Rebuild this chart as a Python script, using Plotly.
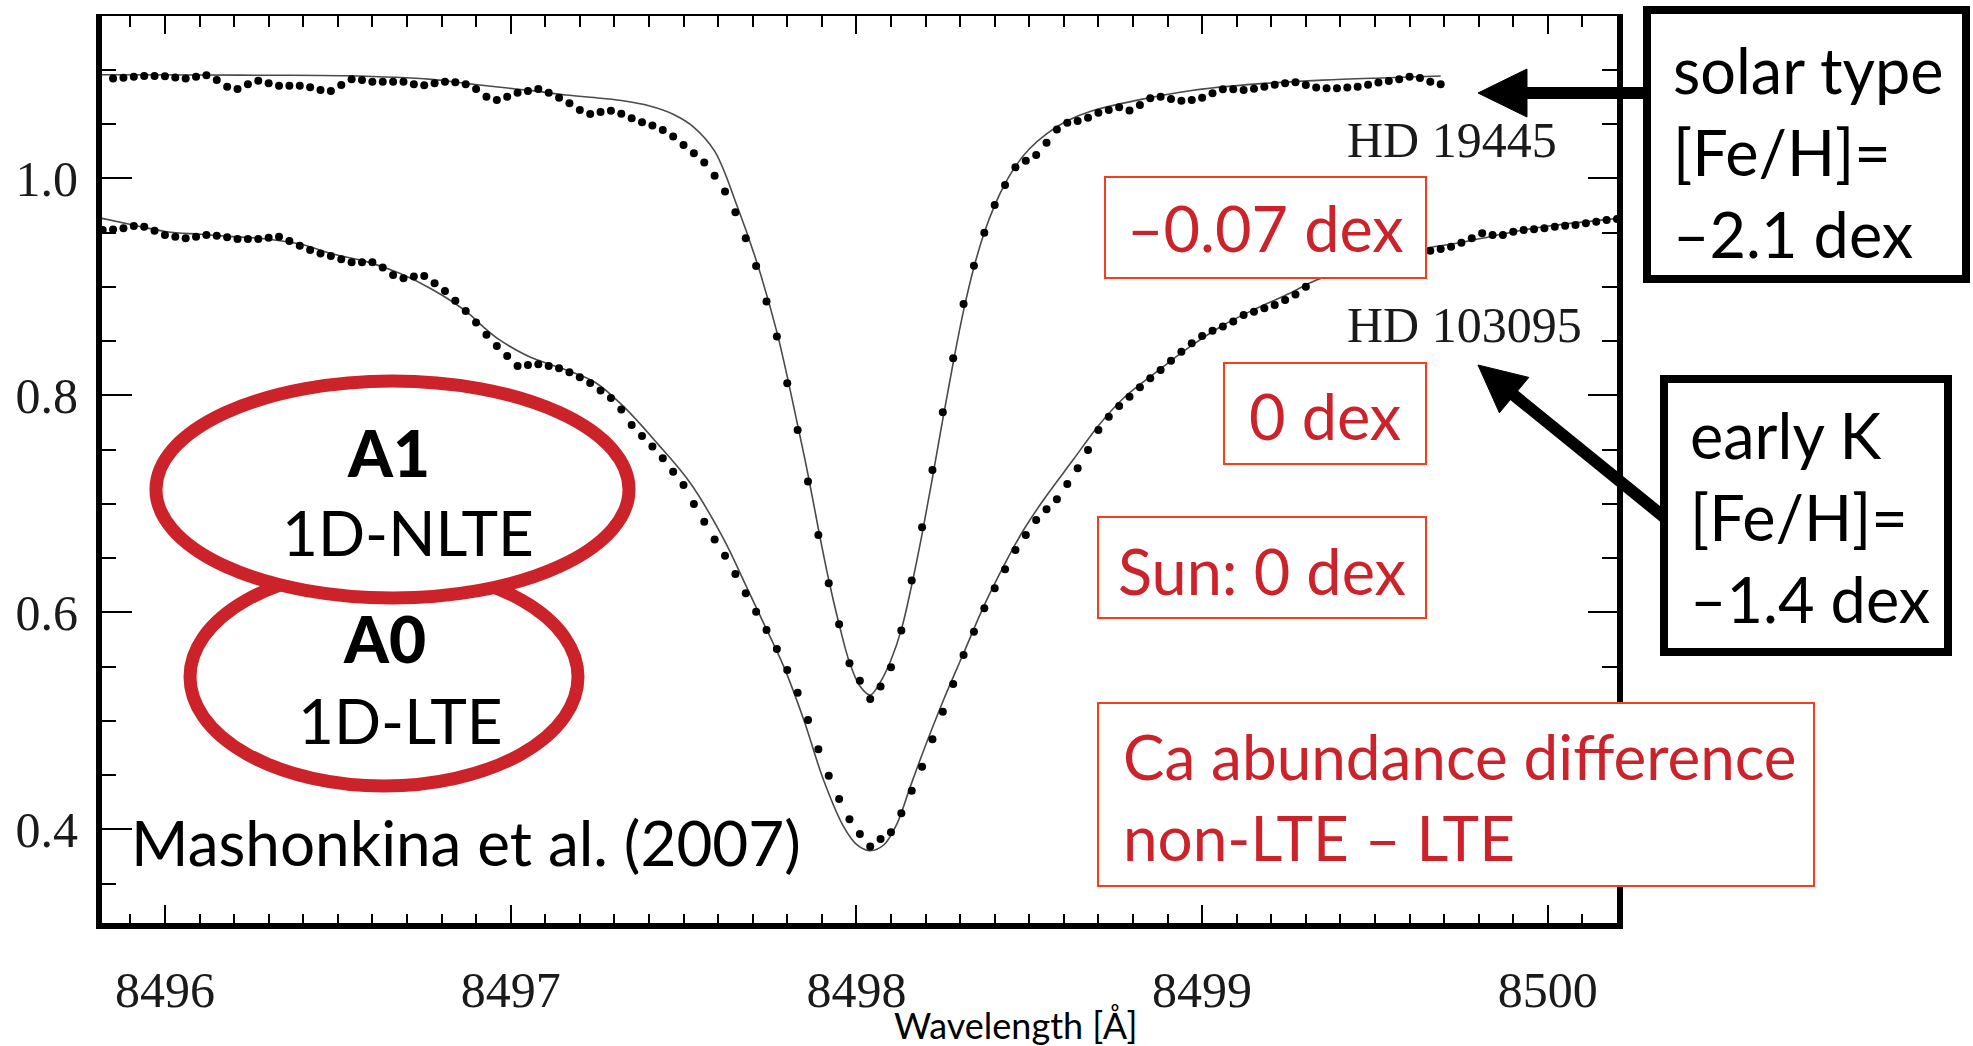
import plotly.graph_objects as go

# ---------------- data ----------------
# common wavelength sampling of the observed spectra [Angstrom]
wavelength = [
    8495.82, 8495.85, 8495.88, 8495.91, 8495.94, 8495.97, 8496.00, 8496.03, 8496.06, 8496.09,
    8496.12, 8496.15, 8496.18, 8496.21, 8496.24, 8496.27, 8496.30, 8496.33, 8496.36, 8496.39,
    8496.42, 8496.45, 8496.48, 8496.51, 8496.54, 8496.57, 8496.60, 8496.63, 8496.66, 8496.69,
    8496.72, 8496.75, 8496.78, 8496.81, 8496.84, 8496.87, 8496.90, 8496.93, 8496.96, 8496.99,
    8497.02, 8497.05, 8497.08, 8497.11, 8497.14, 8497.17, 8497.20, 8497.23, 8497.26, 8497.29,
    8497.32, 8497.35, 8497.38, 8497.41, 8497.44, 8497.47, 8497.50, 8497.53, 8497.56, 8497.59,
    8497.62, 8497.65, 8497.68, 8497.71, 8497.74, 8497.77, 8497.80, 8497.83, 8497.86, 8497.89,
    8497.92, 8497.95, 8497.98, 8498.01, 8498.04, 8498.07, 8498.10, 8498.13, 8498.16, 8498.19,
    8498.22, 8498.25, 8498.28, 8498.31, 8498.34, 8498.37, 8498.40, 8498.43, 8498.46, 8498.49,
    8498.52, 8498.55, 8498.58, 8498.61, 8498.64, 8498.67, 8498.70, 8498.73, 8498.76, 8498.79,
    8498.82, 8498.85, 8498.88, 8498.91, 8498.94, 8498.97, 8499.00, 8499.03, 8499.06, 8499.09,
    8499.12, 8499.15, 8499.18, 8499.21, 8499.24, 8499.27, 8499.30, 8499.33, 8499.36, 8499.39,
    8499.42, 8499.45, 8499.48, 8499.51, 8499.54, 8499.57, 8499.60, 8499.63, 8499.66, 8499.69,
    8499.72, 8499.75, 8499.78, 8499.81, 8499.84, 8499.87, 8499.90, 8499.93, 8499.96, 8499.99,
    8500.02, 8500.05, 8500.08, 8500.11, 8500.14, 8500.17, 8500.20,
]

# observed normalised flux, HD 19445 (offset upward in the figure)
obs_hd19445 = [
    None,
    1.0921, 1.0927, 1.0937, 1.0943, 1.0943, 1.0940, 1.0930, 1.0921, 1.0937, 1.0949,
    1.0906, 1.0845, 1.0823, 1.0866, 1.0900, 1.0875, 1.0854, 1.0854, 1.0854, 1.0839,
    1.0814, 1.0805, 1.0860, 1.0913, 1.0906, 1.0891, 1.0891, 1.0891, 1.0891, 1.0866,
    1.0857, 1.0875, 1.0891, 1.0885, 1.0866, 1.0823, 1.0752, 1.0722, 1.0752, 1.0789,
    1.0805, 1.0823, 1.0789, 1.0743, 1.0691, 1.0630, 1.0592, 1.0610, 1.0623, 1.0594,
    1.0554, 1.0516, 1.0486, 1.0446, 1.0385, 1.0308, 1.0231, 1.0145, 1.0023, 0.9878,
    0.9688, 0.9448, 0.9192, 0.8864, 0.8541, 0.8111, 0.7681, 0.7205, 0.6713, 0.6267,
    0.5889, 0.5530, 0.5370, 0.5201, 0.5315, 0.5493, 0.5831, 0.6292, 0.6783, 0.7312,
    0.7843, 0.8341, 0.8841, 0.9195, 0.9499, 0.9754, 0.9938, 1.0101, 1.0162, 1.0215,
    1.0328, 1.0451, 1.0513, 1.0528, 1.0558, 1.0605, 1.0630, 1.0655, 1.0624, 1.0676,
    1.0737, 1.0752, 1.0731, 1.0715, 1.0722, 1.0743, 1.0783, 1.0820, 1.0820, 1.0814,
    1.0826, 1.0845, 1.0863, 1.0875, 1.0885, 1.0860, 1.0836, 1.0829, 1.0829, 1.0836,
    1.0845, 1.0863, 1.0882, 1.0897, 1.0913, 1.0937, 1.0925, 1.0891, 1.0866,
    None, None, None, None, None, None, None, None, None, None,
    None, None, None, None, None, None, None,
]

# observed normalised flux, HD 103095 (points hidden behind the label box left out)
obs_hd103095 = [
    0.9524, 0.9527, 0.9539, 0.9561, 0.9554, 0.9517, 0.9477, 0.9462, 0.9447, 0.9462,
    0.9477, 0.9471, 0.9456, 0.9440, 0.9440, 0.9440, 0.9453, 0.9462, 0.9422, 0.9379,
    0.9339, 0.9308, 0.9284, 0.9253, 0.9226, 0.9226, 0.9226, 0.9177, 0.9109, 0.9078,
    0.9094, 0.9100, 0.9032, 0.8961, 0.8872, 0.8777, 0.8670, 0.8557, 0.8455, 0.8362,
    0.8271, 0.8280, 0.8286, 0.8271, 0.8249, 0.8213, 0.8167, 0.8113, 0.8045, 0.7975,
    0.7870, 0.7726, 0.7625, 0.7527, 0.7419, 0.7296, 0.7173, 0.6998, 0.6835, 0.6670,
    0.6522, 0.6353, 0.6175, 0.6006, 0.5837, 0.5662, 0.5468, 0.5259, 0.5007, 0.4737,
    0.4494, 0.4279, 0.4092, 0.3957, 0.3840, 0.3911, 0.3972, 0.4147, 0.4356, 0.4577,
    0.4829, 0.5084, 0.5339, 0.5606, 0.5821, 0.6037, 0.6221, 0.6396, 0.6574, 0.6712,
    0.6851, 0.6949, 0.7041, 0.7182, 0.7327, 0.7496, 0.7680, 0.7803, 0.7901, 0.7987,
    0.8073, 0.8156, 0.8233, 0.8319, 0.8402, 0.8479, 0.8547, 0.8596, 0.8633, 0.8679,
    0.8740, 0.8771, 0.8802, 0.8832, 0.8878, 0.8930, 0.9000,
    None, None, None, None, None, None, None, None, None, None, None,
    0.9333, 0.9348, 0.9370, 0.9407, 0.9447, 0.9493, 0.9477, 0.9477, 0.9508, 0.9524,
    0.9530, 0.9539, 0.9554, 0.9563, 0.9570, 0.9585, 0.9600, 0.9616, 0.9625,
]

# synthetic (model) profiles
model_wl_hd19445 = [
    8495.818, 8496.10, 8496.30, 8496.52, 8496.77, 8496.87, 8496.97, 8497.06, 8497.16, 8497.26,
    8497.33, 8497.40, 8497.47, 8497.53, 8497.59, 8497.655, 8497.713, 8497.771, 8497.829, 8497.86,
    8497.89, 8497.92, 8497.95, 8497.98, 8498.01, 8498.04, 8498.07, 8498.10, 8498.13, 8498.16,
    8498.19, 8498.22, 8498.25, 8498.28, 8498.31, 8498.34, 8498.37, 8498.40, 8498.43, 8498.46,
    8498.50, 8498.55, 8498.61, 8498.68, 8498.82, 8498.97, 8499.16, 8499.35, 8499.54, 8499.69,
]
model_hd19445 = [
    1.0955, 1.0952, 1.0950, 1.0945, 1.0912, 1.0875, 1.0839, 1.0808, 1.0768, 1.0738,
    1.0712, 1.0668, 1.0590, 1.0470, 1.0250, 0.9745, 0.9216, 0.8571, 0.7742, 0.727,
    0.677, 0.630, 0.589, 0.554, 0.532, 0.5238, 0.536, 0.556, 0.584, 0.625,
    0.672, 0.724, 0.778, 0.830, 0.878, 0.918, 0.950, 0.975, 0.995, 1.011,
    1.027, 1.041, 1.053, 1.062, 1.0725, 1.081, 1.0870, 1.0905, 1.0927, 1.0943,
]
model_wl_hd103095 = [
    8495.818, 8495.908, 8496.004, 8496.101, 8496.197, 8496.294, 8496.390, 8496.486, 8496.583, 8496.679,
    8496.776, 8496.872, 8496.920, 8496.968, 8497.016, 8497.065, 8497.161, 8497.245, 8497.327, 8497.424,
    8497.520, 8497.617, 8497.674, 8497.732, 8497.790, 8497.848, 8497.905, 8497.963, 8498.002, 8498.038,
    8498.079, 8498.118, 8498.156, 8498.195, 8498.252, 8498.310, 8498.368, 8498.430, 8498.480, 8498.540,
    8498.628, 8498.700, 8498.773, 8498.869, 8498.965, 8499.062, 8499.158, 8499.254, 8499.331, 8499.649,
    8499.736, 8499.832, 8499.929, 8500.025, 8500.179, 8500.200,
]
model_hd103095 = [
    0.9631, 0.9570, 0.9508, 0.9484, 0.9462, 0.9441, 0.9394, 0.9302, 0.9232, 0.9124,
    0.8971, 0.8771, 0.8633, 0.8510, 0.8418, 0.8341, 0.8233, 0.8118, 0.7895, 0.7557,
    0.7189, 0.6670, 0.6290, 0.5898, 0.5499, 0.5007, 0.4454, 0.4024, 0.3855, 0.3803,
    0.3855, 0.4055, 0.4393, 0.4731, 0.5192, 0.5622, 0.6052, 0.6450, 0.6740, 0.7030,
    0.7410, 0.7720, 0.7975, 0.8218, 0.8448, 0.8648, 0.8802, 0.8940, 0.9063, 0.9355,
    0.9401, 0.9462, 0.9524, 0.9570, 0.9622, 0.9628,
]

x_tick_vals = [8496, 8497, 8498, 8499, 8500]
y_tick_vals = [0.4, 0.6, 0.8, 1.0]
x_range = [8495.818, 8500.200]
y_range = [0.3136, 1.1496]

star_labels = ["HD 19445", "HD 103095"]
delta_labels = ["\u20130.07 dex", "0 dex", "Sun: 0 dex"]

# ---------------- layout helpers (pixel -> paper) ----------------
PL, PR, PT, PB = 102, 1617, 16, 923


def fx(p):
    return (p - PL) / (PR - PL)


def fy(p):
    return (PB - p) / (PB - PT)


SANS = "Lato"
SERIF = "Liberation Serif"
RED_TXT = "#cc2229"
RED_BOX = "#f2401f"

fig = go.Figure()

for wl, fl in [(model_wl_hd19445, model_hd19445), (model_wl_hd103095, model_hd103095)]:
    fig.add_trace(go.Scatter(x=wl, y=fl, mode="lines",
                             line=dict(color="#4a4a4a", width=1.6, shape="spline", smoothing=1.0),
                             hoverinfo="skip", showlegend=False))

for fl in [obs_hd19445, obs_hd103095]:
    fig.add_trace(go.Scatter(x=wavelength, y=fl, mode="markers",
                             marker=dict(color="black", size=8, line=dict(width=0)),
                             hoverinfo="skip", showlegend=False))

# dummy trace so the mirrored (top / right) axes are drawn
fig.add_trace(go.Scatter(x=[x_tick_vals[2]], y=[y_tick_vals[2]], xaxis="x2", yaxis="y2",
                         mode="markers", marker=dict(opacity=0), hoverinfo="skip", showlegend=False))

tickfont = dict(family=SERIF, size=50, color="#1a1a1a")

fig.update_layout(
    width=1973, height=1046,
    margin=dict(l=PL, r=1973 - PR, t=PT, b=1046 - PB),
    paper_bgcolor="white", plot_bgcolor="white",
    showlegend=False,
    xaxis=dict(range=x_range, tickvals=x_tick_vals, ticktext=[str(v) for v in x_tick_vals],
               ticks="inside", ticklen=18, tickwidth=2, tickcolor="black",
               showline=True, linewidth=6, linecolor="black",
               showgrid=False, zeroline=False, tickfont=tickfont, ticklabelstandoff=18,
               minor=dict(dtick=0.1, tick0=8496, ticks="inside", ticklen=9, tickwidth=2,
                          tickcolor="black", showgrid=False)),
    yaxis=dict(range=y_range, tickvals=y_tick_vals, ticktext=["%.1f" % v for v in y_tick_vals],
               ticks="inside", ticklen=30, tickwidth=2, tickcolor="black",
               showline=True, linewidth=6, linecolor="black",
               showgrid=False, zeroline=False, tickfont=tickfont, ticklabelstandoff=8,
               minor=dict(dtick=0.05, tick0=0.4, ticks="inside", ticklen=14, tickwidth=2,
                          tickcolor="black", showgrid=False)),
    xaxis2=dict(range=x_range, overlaying="x", side="top", anchor="y2",
                tickvals=x_tick_vals, showticklabels=False,
                ticks="inside", ticklen=18, tickwidth=2, tickcolor="black",
                showline=True, linewidth=2, linecolor="black", showgrid=False, zeroline=False,
                minor=dict(dtick=0.1, tick0=8496, ticks="inside", ticklen=11, tickwidth=2,
                           tickcolor="black", showgrid=False)),
    yaxis2=dict(range=y_range, overlaying="y", side="right", anchor="x2",
                tickvals=y_tick_vals, showticklabels=False,
                ticks="inside", ticklen=29, tickwidth=2, tickcolor="black",
                showline=True, linewidth=6, linecolor="black", showgrid=False, zeroline=False,
                minor=dict(dtick=0.05, tick0=0.4, ticks="inside", ticklen=15, tickwidth=2,
                           tickcolor="black", showgrid=False)),
)

shapes = []


def rect(x0, y0, x1, y1, color, width):
    shapes.append(dict(type="rect", xref="paper", yref="paper", layer="above",
                       x0=fx(x0), x1=fx(x1), y0=fy(y1), y1=fy(y0),
                       line=dict(color=color, width=width), fillcolor="white"))


def ellipse(x0, y0, x1, y1):
    shapes.append(dict(type="circle", xref="paper", yref="paper", layer="above",
                       x0=fx(x0), x1=fx(x1), y0=fy(y1), y1=fy(y0),
                       line=dict(color="#cc2229", width=13), fillcolor="white"))


def path(points, fill):
    d = "M " + " L ".join("%.5f,%.5f" % (fx(a), fy(b)) for a, b in points) + " Z"
    shapes.append(dict(type="path", xref="paper", yref="paper", layer="above", path=d,
                       fillcolor=fill, line=dict(color=fill, width=1)))


def seg(x0, y0, x1, y1, width):
    shapes.append(dict(type="line", xref="paper", yref="paper", layer="above",
                       x0=fx(x0), y0=fy(y0), x1=fx(x1), y1=fy(y1),
                       line=dict(color="black", width=width)))


# red result boxes
rect(1105, 177, 1426, 278, RED_BOX, 2)
rect(1224, 363, 1426, 464, RED_BOX, 2)
rect(1098, 517, 1426, 618, RED_BOX, 2)
rect(1098, 703, 1814, 886, RED_BOX, 2)
# black star-type boxes
rect(1647, 10, 1966, 279, "black", 8)
rect(1664, 379, 1948, 652, "black", 8)
# arrows
seg(1522, 93, 1648, 93, 12)
path([(1478, 93), (1527, 69), (1527, 117)], "black")
seg(1510, 392, 1664, 517, 12)
path([(1478, 365), (1528.8, 377.4), (1499.4, 412.8)], "black")
# ellipses (A0 first, A1 on top)
ellipse(190, 568, 578, 786)
ellipse(156, 381, 629, 598)

annotations = []


def text(t, x, y, size, color="black", family=SANS, xanchor="center", align="center", weight=None):
    font = dict(family=family, size=size, color=color)
    if weight:
        font["weight"] = weight
    annotations.append(dict(text=t, x=fx(x), y=fy(y), xref="paper", yref="paper",
                            showarrow=False, xanchor=xanchor, yanchor="middle", align=align,
                            font=font))


text("A1", 388, 452, 64, weight=900)
text("1D-NLTE", 408, 532, 62)
text("A0", 384, 638, 64, weight=900)
text("1D-LTE", 400, 720, 62)
text("Mashonkina et al. (2007)", 129, 842, 62, xanchor="left")
text(delta_labels[0], 1265, 228, 63, RED_TXT)
text(delta_labels[1], 1325, 415, 63, RED_TXT)
text(delta_labels[2], 1262, 570, 63, RED_TXT)
text("Ca abundance difference<br>non-LTE \u2013 LTE", 1121, 796, 62, RED_TXT,
     xanchor="left", align="left")
text(star_labels[0], 1345, 140, 50, "#1a1a1a", SERIF, xanchor="left")
text(star_labels[1], 1345, 325, 50, "#1a1a1a", SERIF, xanchor="left")
text("solar type<br>[Fe/H]=<br>\u20132.1 dex", 1671, 151, 63, xanchor="left", align="left")
text("early K<br>[Fe/H]=<br>\u20131.4 dex", 1688, 516, 63, xanchor="left", align="left")
text("Wavelength [\u00c5]", 1015, 1025, 36)

fig.update_layout(shapes=shapes, annotations=annotations)

fig.write_html("out.html")
